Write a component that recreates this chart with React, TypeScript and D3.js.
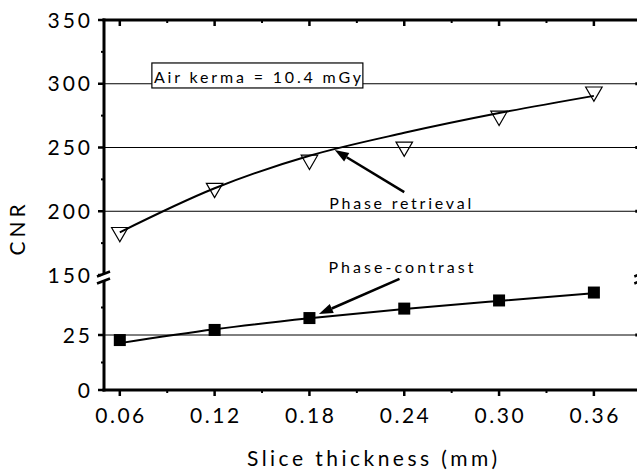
import React from "react";
import * as d3 from "d3";

const thickness = [0.06, 0.12, 0.18, 0.24, 0.3, 0.36];
const phaseRetrieval = [184.7, 219.3, 241.4, 251.7, 275.9, 294.9];
const phaseRetrievalFit = [183.5, 218, 243.5, 261.5, 277, 290.5];
const phaseContrast = [22.7, 27.3, 32.7, 37, 40.7, 44.3];
const phaseContrastFit = [21.3, 27.6, 32.6, 36.8, 40.5, 44];
const xTickValues = [0.06, 0.12, 0.18, 0.24, 0.3, 0.36];
const xTickLabels = ["0.06", "0.12", "0.18", "0.24", "0.30", "0.36"];
const yUpperTicks = [150, 200, 250, 300, 350];
const yUpperMinor = [175, 225, 275, 325];
const yLowerTicks = [0, 25];
const yLowerMinor = [12.5, 37.5];
const upperGrid = [200, 250, 300];
const lowerGrid = [25];

const W = 637;
const H = 474;
const FONT = "Lato, 'Open Sans', sans-serif";

export default function App() {
  const x = d3.scaleLinear().domain([0.05, 0.39]).range([104, 641.3]);
  const yU = d3.scaleLinear().domain([150, 350]).range([275, 20]);
  const yL = d3.scaleLinear().domain([0, 50]).range([390, 280]);
  const left = x(0.05);
  const right = x(0.39);
  const top = yU(350);
  const bottom = yL(0);
  const xMinor = d3.range(0.09, 0.39, 0.06);

  const lineU = d3
    .line<number>()
    .x((_, i) => x(thickness[i]))
    .y((d) => yU(d))
    .curve(d3.curveMonotoneX);
  const lineL = d3
    .line<number>()
    .x((_, i) => x(thickness[i]))
    .y((d) => yL(d))
    .curve(d3.curveMonotoneX);

  const tri = d3.symbol().type(d3.symbolTriangle).size(118)();

  const arrow = (x1: number, y1: number, x2: number, y2: number, key: string) => {
    const ang = Math.atan2(y2 - y1, x2 - x1);
    const L = 14;
    const Wd = 5;
    const bx = x2 - L * Math.cos(ang);
    const by = y2 - L * Math.sin(ang);
    const px = -Math.sin(ang) * Wd;
    const py = Math.cos(ang) * Wd;
    return (
      <g key={key}>
        <line x1={x1} y1={y1} x2={bx} y2={by} stroke="#000" strokeWidth={2.5} />
        <polygon points={`${x2},${y2} ${bx + px},${by + py} ${bx - px},${by - py}`} fill="#000" />
      </g>
    );
  };

  const breakY = (yU(150) + yL(50)) / 2;

  return (
    <svg width={W} height={H} style={{ position: "absolute", left: 0, top: 0, background: "#fff" }} fontFamily={FONT}>
      <rect width={W} height={H} fill="#fff" />
      {/* gridlines */}
      {upperGrid.map((v) => (
        <line key={"gu" + v} x1={left} x2={right} y1={yU(v)} y2={yU(v)} stroke="#000" strokeWidth={1} />
      ))}
      {lowerGrid.map((v) => (
        <line key={"gl" + v} x1={left} x2={right} y1={yL(v)} y2={yL(v)} stroke="#000" strokeWidth={1} />
      ))}
      {/* right axis (mostly outside) */}
      <line x1={right} x2={right} y1={top} y2={bottom} stroke="#000" strokeWidth={3} />
      {[...upperGrid.map((v) => yU(v)), ...lowerGrid.map((v) => yL(v))].map((yy, i) => (
        <line key={"rt" + i} x1={right} x2={right - 6} y1={yy} y2={yy} stroke="#000" strokeWidth={3} />
      ))}
      {/* top axis */}
      <line x1={left - 1.5} x2={W} y1={top} y2={top} stroke="#000" strokeWidth={3} />
      {xTickValues.map((v) => (
        <line key={"tt" + v} x1={x(v)} x2={x(v)} y1={top} y2={top + 6} stroke="#000" strokeWidth={2.5} />
      ))}
      {xMinor.map((v) => (
        <line key={"tm" + v} x1={x(v)} x2={x(v)} y1={top} y2={top + 3} stroke="#000" strokeWidth={2} />
      ))}
      {/* bottom axis */}
      <line x1={left - 1.5} x2={W} y1={bottom} y2={bottom} stroke="#000" strokeWidth={3} />
      {xTickValues.map((v) => (
        <line key={"bt" + v} x1={x(v)} x2={x(v)} y1={bottom} y2={bottom + 6} stroke="#000" strokeWidth={2.5} />
      ))}
      {xMinor.map((v) => (
        <line key={"bm" + v} x1={x(v)} x2={x(v)} y1={bottom} y2={bottom + 3} stroke="#000" strokeWidth={2} />
      ))}
      {xTickValues.map((v, i) => (
        <text key={"bl" + v} x={x(v)} y={423} textAnchor="middle" fontSize={21} textLength={49} lengthAdjust="spacing">
          {xTickLabels[i]}
        </text>
      ))}
      {/* left axis */}
      <line x1={left} x2={left} y1={top - 1.5} y2={bottom + 1.5} stroke="#000" strokeWidth={3} />
      {yUpperTicks.map((v) => (
        <line key={"lu" + v} x1={left} x2={left - 6} y1={yU(v)} y2={yU(v)} stroke="#000" strokeWidth={2.5} />
      ))}
      {yUpperMinor.map((v) => (
        <line key={"lum" + v} x1={left} x2={left - 3} y1={yU(v)} y2={yU(v)} stroke="#000" strokeWidth={2} />
      ))}
      {yLowerTicks.map((v) => (
        <line key={"ll" + v} x1={left} x2={left - 6} y1={yL(v)} y2={yL(v)} stroke="#000" strokeWidth={2.5} />
      ))}
      {yLowerMinor.map((v) => (
        <line key={"llm" + v} x1={left} x2={left - 3} y1={yL(v)} y2={yL(v)} stroke="#000" strokeWidth={2} />
      ))}
      {yUpperTicks.map((v) => (
        <text key={"lut" + v} x={90} y={yU(v) + 7.5} textAnchor="end" fontSize={21} letterSpacing={3} dx={3}>
          {v}
        </text>
      ))}
      {yLowerTicks.map((v) => (
        <text key={"llt" + v} x={90} y={yL(v) + 7.5} textAnchor="end" fontSize={21} letterSpacing={3} dx={3}>
          {v}
        </text>
      ))}
      {/* break marks */}
      <rect x={left - 3} y={breakY - 4} width={6} height={7} fill="#fff" />
      <line x1={left - 7} y1={breakY - 1} x2={left + 6} y2={breakY - 6} stroke="#000" strokeWidth={2.5} />
      <line x1={left - 7} y1={breakY + 6} x2={left + 6} y2={breakY + 1} stroke="#000" strokeWidth={2.5} />
      <line x1={right - 7} y1={breakY - 1} x2={right + 6} y2={breakY - 6} stroke="#000" strokeWidth={2.5} />
      <line x1={right - 7} y1={breakY + 6} x2={right + 6} y2={breakY + 1} stroke="#000" strokeWidth={2.5} />
      {/* fits */}
      <path d={lineU(phaseRetrievalFit) || ""} fill="none" stroke="#000" strokeWidth={2} />
      <path d={lineL(phaseContrastFit) || ""} fill="none" stroke="#000" strokeWidth={2} />
      {/* markers */}
      {phaseRetrieval.map((v, i) => (
        <path
          key={"pr" + i}
          d={tri || ""}
          transform={`translate(${x(thickness[i])},${yU(v) + 1.5}) rotate(180)`}
          fill="none"
          stroke="#000"
          strokeWidth={1.2}
        />
      ))}
      {phaseContrast.map((v, i) => (
        <rect key={"pc" + i} x={x(thickness[i]) - 6} y={yL(v) - 6} width={12} height={12} fill="#000" />
      ))}
      {/* annotation box */}
      <rect x={x(0.0803)} y={yU(316.3)} width={211} height={25} fill="#fff" stroke="#000" strokeWidth={1.2} />
      <text x={x(0.0803) + 2} y={yU(316.3) + 20} fontSize={16} textLength={207} lengthAdjust="spacing">
        Air kerma = 10.4 mGy
      </text>
      {/* labels with arrows */}
      <text x={x(0.1925)} y={yU(201.8)} fontSize={16} textLength={142} lengthAdjust="spacing">
        Phase retrieval
      </text>
      {arrow(x(0.24), yU(215), x(0.196), yU(248), "a1")}
      <text x={x(0.192)} y={yL(53)} fontSize={16} textLength={145} lengthAdjust="spacing">
        Phase-contrast
      </text>
      {arrow(x(0.237), yL(50.5), x(0.186), yL(34.5), "a2")}
      {/* axis titles */}
      <text x={372} y={466} textAnchor="middle" fontSize={21} textLength={250} lengthAdjust="spacing">
        Slice thickness (mm)
      </text>
      <text
        transform={`translate(25,228) rotate(-90)`}
        textAnchor="middle"
        fontSize={21}
        letterSpacing={4}
      >
        CNR
      </text>
    </svg>
  );
}
